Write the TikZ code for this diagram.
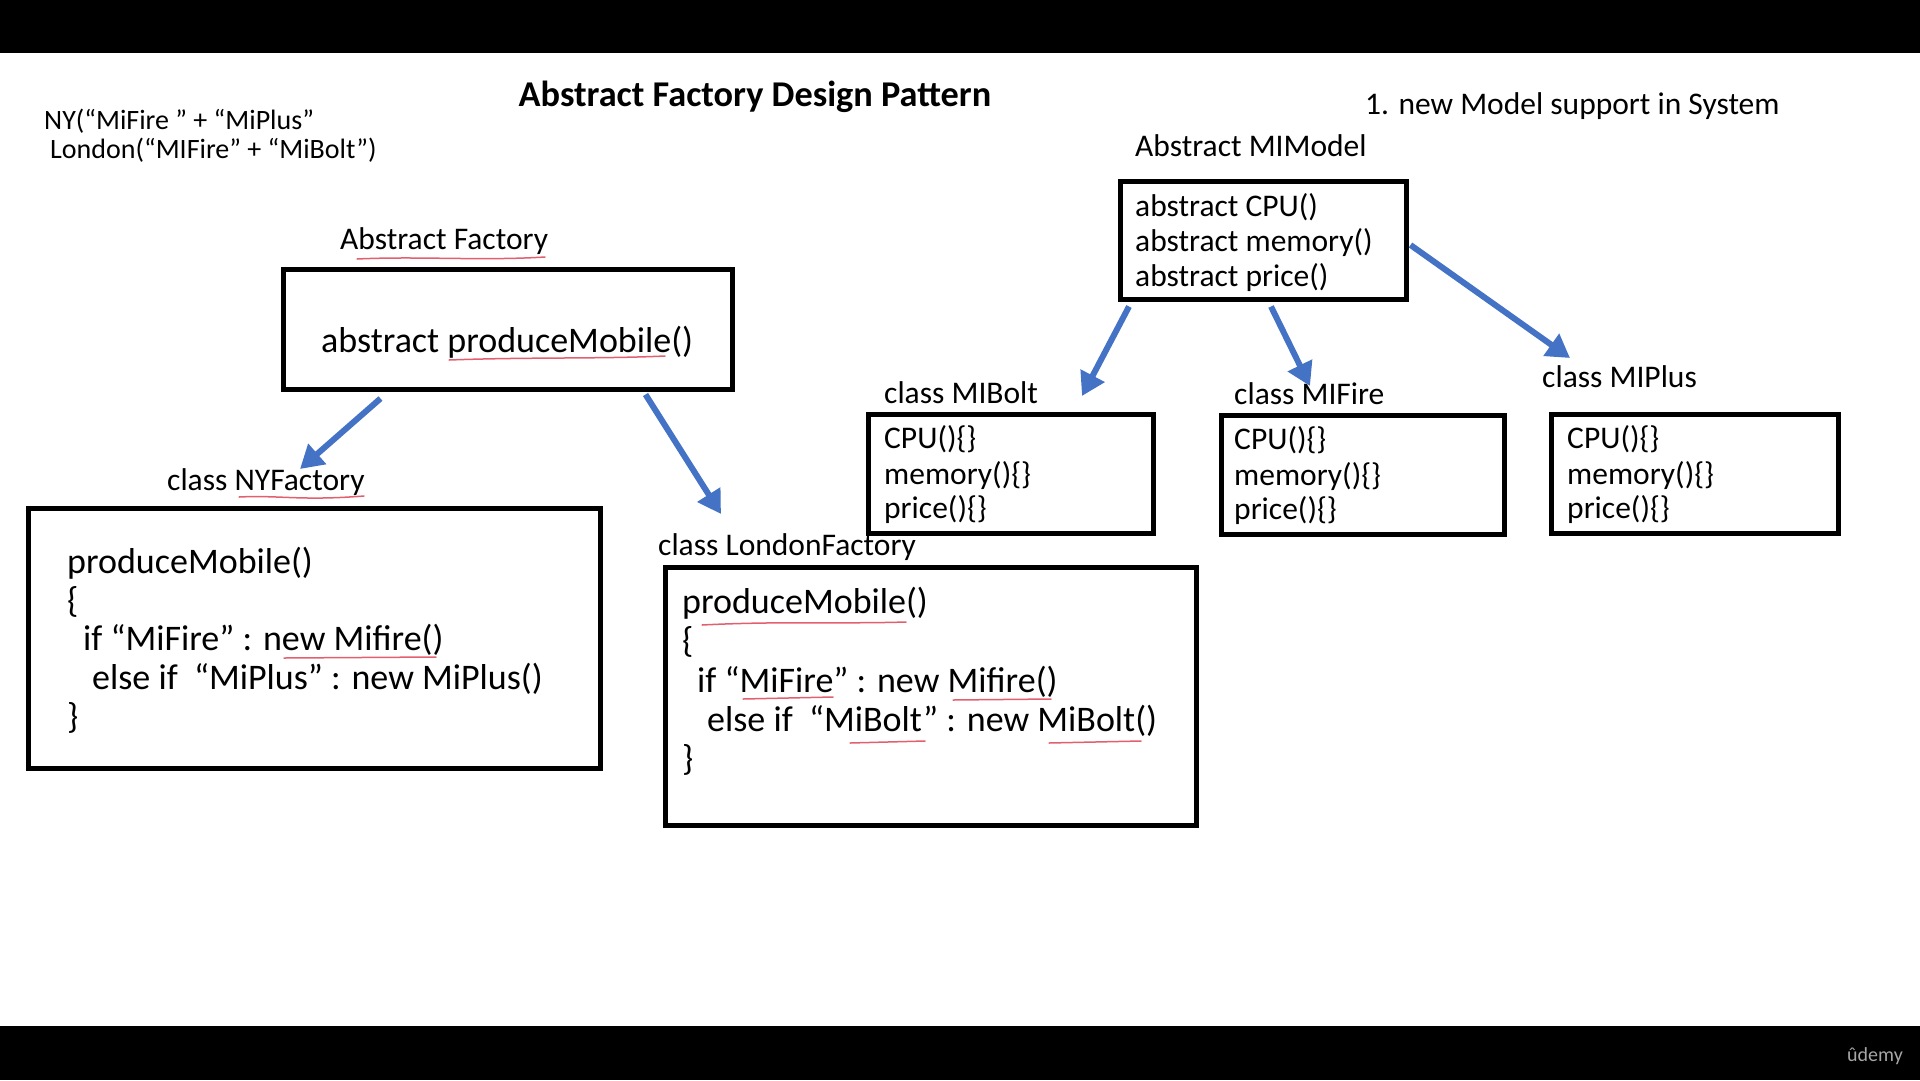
\documentclass[tikz,border=0pt]{standalone}
\usepackage{fontspec}
\setmainfont{Carlito}
\usetikzlibrary{arrows.meta}

\definecolor{arrblue}{RGB}{68,114,196}
\definecolor{penred}{RGB}{226,96,110}

\tikzset{
  box/.style={draw=black, line width=5pt, inner sep=0pt},
  lbl/.style={anchor=base west, inner sep=0pt, font=\fontsize{31.5}{36}\selectfont},
  code/.style={anchor=base west, inner sep=0pt, font=\fontsize{36}{39}\selectfont},
  arr/.style={draw=arrblue, line width=6pt, -{Triangle[length=23pt,width=26pt]}},
  uline/.style={draw=penred, line width=1.5pt, line cap=round},
}

\begin{document}
\begin{tikzpicture}[x=1pt, y=-1pt]
\useasboundingbox (0,0) rectangle (1920,1080);
\fill[black] (0,0) rectangle (1920,53);
\fill[black] (0,1026) rectangle (1920,1080);

% headings
\node[anchor=base, inner sep=0pt, font=\bfseries\fontsize{36.3}{40}\selectfont] (title) at (755,106) {Abstract Factory Design Pattern};
\node[anchor=base west, inner sep=0pt, font=\fontsize{28}{30}\selectfont] (noteNY) at (44,129) {NY(“MiFire ” + “MiPlus”};
\node[anchor=base west, inner sep=0pt, font=\fontsize{28}{30}\selectfont] (noteLon) at (50,158) {London(“MIFire” + “MiBolt”)};
\node[lbl] (todo) at (1365,114) {1. new Model support in System};

% factories
\node[lbl] (afLbl) at (340,249) {Abstract Factory};
\node[box, minimum width=449pt, minimum height=120pt] (af) at (507.5,329) {};
\node[code] (afTxt) at (321,352) {abstract produceMobile()};

\node[lbl] (nyLbl) at (167,490) {class NYFactory};
\node[box, minimum width=572pt, minimum height=260pt] (ny) at (314,638) {};
\node[code] (ny1) at (67,573) {produceMobile()};
\node[code] (ny2) at (67,612) {\{};
\node[code] (ny3) at (83,650) {if “MiFire” : new Mifire()};
\node[code] (ny4) at (92,689) {else if\ \ “MiPlus” : new MiPlus()};
\node[code] (ny5) at (67,728) {\}};

\node[lbl] (lonLbl) at (658,555) {class LondonFactory};
\node[box, minimum width=531pt, minimum height=258pt] (lon) at (930.5,696) {};
\node[code] (lon1) at (682,613) {produceMobile()};
\node[code] (lon2) at (682,652) {\{};
\node[code] (lon3) at (697,692) {if “MiFire” : new Mifire()};
\node[code] (lon4) at (707,731) {else if\ \ “MiBolt” : new MiBolt()};
\node[code] (lon5) at (682,770) {\}};

% models
\node[lbl] (mmLbl) at (1135,156) {Abstract MIModel};
\node[box, minimum width=286pt, minimum height=118pt] (mm) at (1263,240) {};
\node[lbl] (mm1) at (1135,216) {abstract CPU()};
\node[lbl] (mm2) at (1135,251) {abstract memory()};
\node[lbl] (mm3) at (1135,286) {abstract price()};

\node[lbl] (boltLbl) at (884,403) {class MIBolt};
\node[box, minimum width=285pt, minimum height=119pt] (bolt) at (1010.5,473.5) {};
\node[lbl] (bolt1) at (884,448) {CPU()\{\}};
\node[lbl] (bolt2) at (884,484) {memory()\{\}};
\node[lbl] (bolt3) at (884,518) {price()\{\}};

\node[lbl] (fireLbl) at (1234,404) {class MIFire};
\node[box, minimum width=283pt, minimum height=119pt] (fire) at (1362.5,474.5) {};
\node[lbl] (fire1) at (1234,449) {CPU()\{\}};
\node[lbl] (fire2) at (1234,485) {memory()\{\}};
\node[lbl] (fire3) at (1234,519) {price()\{\}};

\node[lbl] (plusLbl) at (1542,387) {class MIPlus};
\node[box, minimum width=287pt, minimum height=119pt] (plus) at (1694.5,473.5) {};
\node[lbl] (plus1) at (1567,448) {CPU()\{\}};
\node[lbl] (plus2) at (1567,484) {memory()\{\}};
\node[lbl] (plus3) at (1567,518) {price()\{\}};

% arrow tips
\coordinate (nyTip) at (300,469);
\coordinate (lonTip) at (721,514);
\coordinate (boltTip) at (1082,396);
\coordinate (fireTip) at (1310,386);
\coordinate (plusTip) at (1570,358);

\draw[arr] ([xshift=-127pt,yshift=-7pt]af.south) -- (nyTip);
\draw[arr] ([xshift=138pt,yshift=-3pt]af.south) -- (lonTip);
\draw[arr] ([xshift=-134pt,yshift=-5pt]mm.south) -- (boltTip);
\draw[arr] ([xshift=8pt,yshift=-5pt]mm.south) -- (fireTip);
\draw[arr] ([xshift=2pt,yshift=-5pt]mm.east) -- (plusTip);

% pen marks
\draw[uline] (357,259) .. controls (420,256) and (480,261) .. (545,257);
\draw[uline] (449,360) .. controls (530,357) and (600,359) .. (665,356);
\draw[uline] (239,497) .. controls (280,495) and (300,501) .. (364,496);
\draw[uline] (284,658) -- (436,657);
\draw[uline] (702,625) .. controls (780,621) and (840,624) .. (906,622);
\draw[uline] (743,699) -- (833,697);
\draw[uline] (953,700) -- (1051,699);
\draw[uline] (850,743) -- (925,741);
\draw[uline] (1049,743) -- (1141,741);

\node[anchor=base, inner sep=0pt, text=gray!70, font=\fontsize{20}{22}\selectfont] (mark) at (1875,1061) {ûdemy};
\end{tikzpicture}
\end{document}
